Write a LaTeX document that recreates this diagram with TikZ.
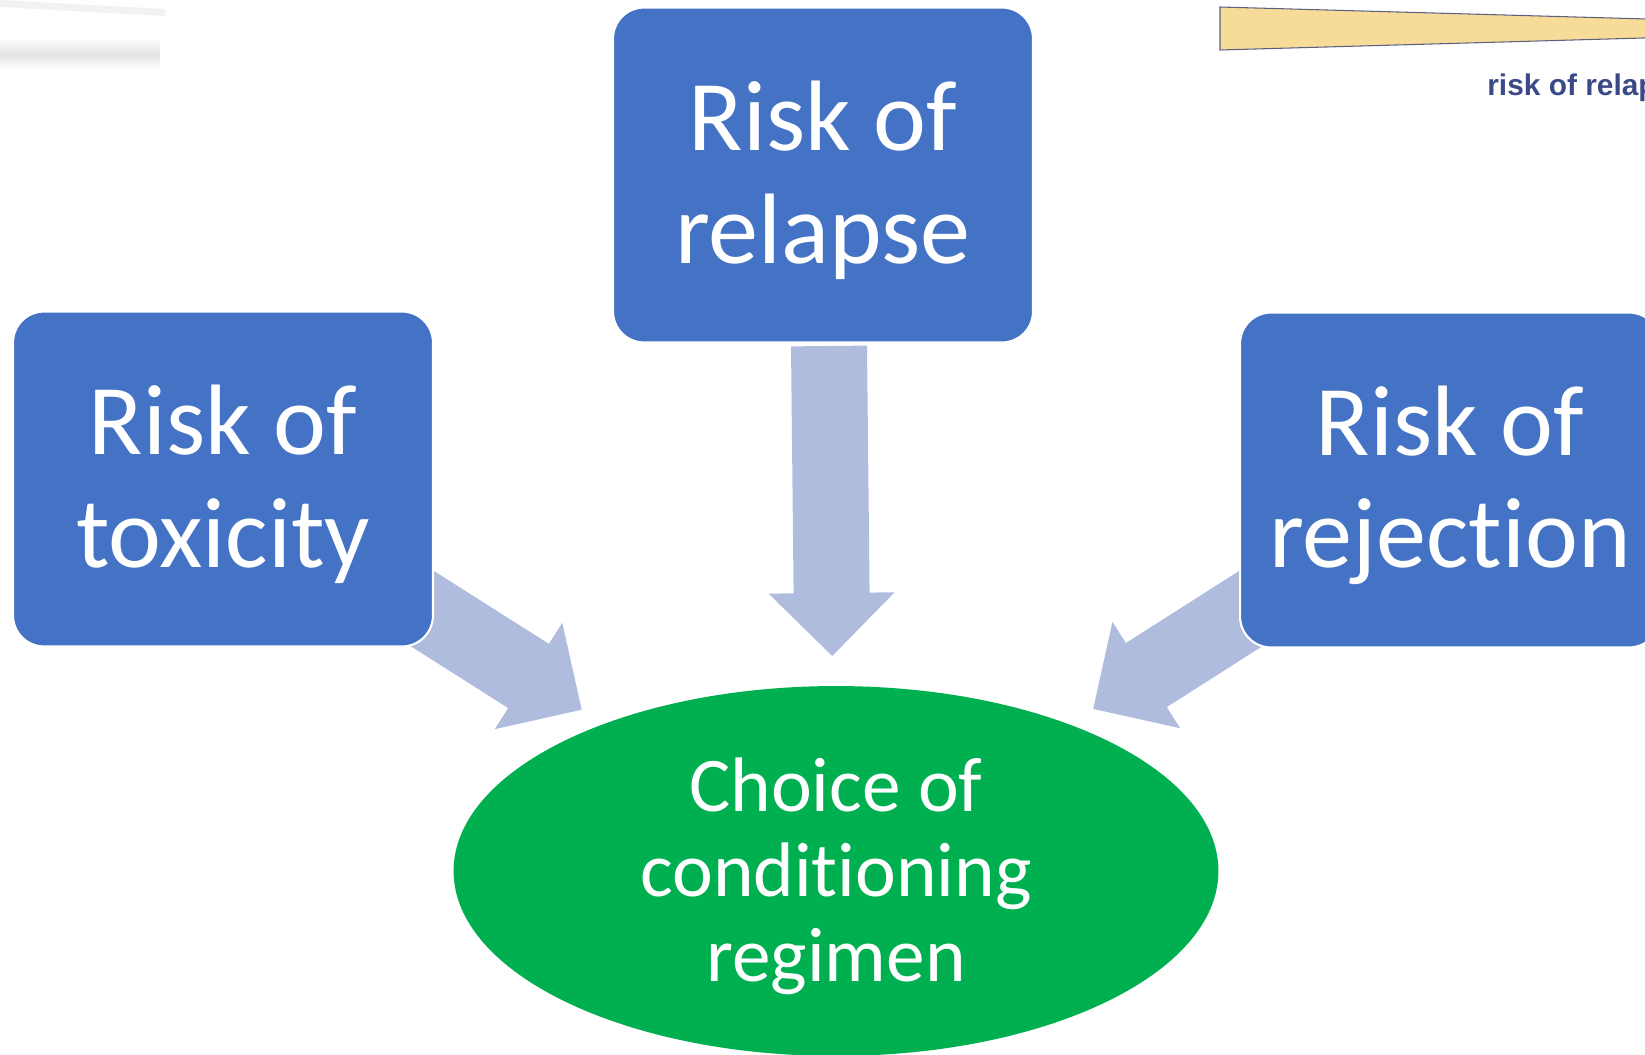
\documentclass[tikz,border=0pt]{standalone}
\usepackage{fontspec}
\setmainfont{Carlito}[Ligatures=NoCommon]
\newfontfamily\slidefont{Liberation Sans}
\usepackage{xcolor}
\usetikzlibrary{positioning,shapes.geometric}

\definecolor{boxblue}{HTML}{4472C4}
\definecolor{goalgreen}{HTML}{00B050}
\definecolor{arrowblue}{HTML}{B0BCDE}
\definecolor{wedgeyellow}{HTML}{F6DC98}
\definecolor{wedgeline}{HTML}{5B6080}
\definecolor{navytext}{HTML}{3B4987}

% block arrow: start, angle, length
\newcommand\fatarrow[3]{%
  \fill[arrowblue, shift={(#1)}, rotate=#2]
    (0,-38) -- ({#3-63},-38) -- ({#3-63},-63) -- (#3,0)
    -- ({#3-63},63) -- ({#3-63},38) -- (0,38) -- cycle;}
% a little more room above the first line
\newcommand\padline[1]{\raisebox{0pt}[\dimexpr\height+6pt\relax]{#1}}

\begin{document}
\begin{tikzpicture}[x=0.02cm,y=-0.02cm,
        riskbox/.style={draw=white, line width=1.2pt, fill=boxblue, rounded corners=0.62cm,
            minimum width=8.4cm, minimum height=6.7cm, align=center, text=white,
            font=\fontsize{57}{64}\selectfont},
        choice/.style={ellipse, fill=goalgreen, minimum width=15.3cm, minimum height=7.4cm,
            inner sep=0pt, align=center, text=white, font=\fontsize{44}{48.6}\selectfont}
    ]
        \clip (0,0) rectangle (1645,1054);

        % Left-over bits of the slide behind
        \fill[gray!10] (0,0) -- (165,9) -- (165,16) -- (0,7) -- cycle;
        \shade[top color=white, bottom color=white, middle color=gray!22] (0,38) rectangle (160,70);
        \draw[wedgeline, fill=wedgeyellow, line width=0.6pt]
            (1220,7) -- (1700,20.5) -- (1700,36.4) -- (1220,50) -- cycle;
        \node[anchor=base west, inner sep=0, text=navytext,
            font=\slidefont\bfseries\fontsize{17}{20}\selectfont] (riskrel) at (1487,96) {risk of relapse};

        % Arrow ends
        \coordinate (toxout) at (412,602);
        \coordinate (relout) at (829,346);
        \coordinate (rejout) at (1261,602);

        % Arrows into the choice
        \fatarrow{toxout}{-32.4}{201}
        \fatarrow{relout}{-89.4}{310}
        \fatarrow{rejout}{-147.5}{199}

        % Risk boxes
        \node[riskbox] (tox) at (223,479) {\padline{Risk of}\\toxicity};
        \node[riskbox] (rel) at (823,175) {\padline{Risk of}\\relapse};
        \node[riskbox] (rej) at (1450,480) {\padline{Risk of}\\rejection};

        % Choice
        \node[choice] (regimen) at (836,871) {\padline{Choice of}\\conditioning\\regimen};
    \end{tikzpicture}
\end{document}
